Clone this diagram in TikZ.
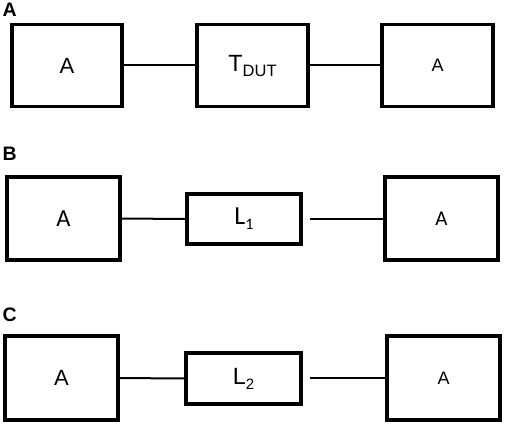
\documentclass[tikz,border=0pt]{standalone}
\usepackage{fontspec}
\setmainfont{Liberation Sans}
\newfontfamily\carl{Carlito}
\newcommand{\subtxt}[3]{\raisebox{-#1}{\fontsize{#2}{#2}\selectfont #3}}
\begin{document}
\begin{tikzpicture}[x=1pt,y=-1pt,
  box/.style={draw=black,line width=3.2pt,inner sep=0pt,anchor=center},
  bigbox/.style={box,minimum width=#1,minimum height=82},
  conn/.style={draw=black,line width=2pt},
  panel/.style={font=\fontsize{19.5}{19.5}\selectfont\bfseries,anchor=north west,inner sep=0pt},
  big/.style={font=\fontsize{22}{22}\selectfont},
  huge/.style={font=\fontsize{23.5}{23.5}\selectfont},
  mid/.style={font=\fontsize{18}{18}\selectfont},
  cbig/.style={font=\carl\fontsize{24.5}{24.5}\selectfont},
  chuge/.style={font=\carl\fontsize{26}{26}\selectfont},
  cmid/.style={font=\carl\fontsize{21}{21}\selectfont}]
\useasboundingbox (0,0) rectangle (505,425);
% Panel A
\node[panel] (la) at (2.5,3) {A};
\node[bigbox=110,big] (a1) at (67,65.5) {A};
\node[bigbox=111,huge] (a2) at (252.5,65.5) {T\subtxt{5pt}{16.5}{DUT}};
\node[bigbox=111,mid] (a3) at (437.5,65.5) {A};
\draw[conn] (a1) -- (a2);
\draw[conn] (a2) -- (a3);
% Panel B
\node[panel] (lb) at (2.5,147) {B};
\node[box,minimum width=113,minimum height=83,cbig] (b1) at (63.5,218.5) {A};
\node[box,minimum width=114,minimum height=50,chuge] (b2) at (244,219) {L\subtxt{5pt}{16}{1}};
\node[box,minimum width=113,minimum height=83,cmid] (b3) at (441.5,218.5) {A};
\coordinate (bs) at (310,219);
\draw[conn] (b1) -- (b2);
\draw[conn] (bs) -- (bs -| b3.west);
% Panel C
\node[panel] (lc) at (2.5,308) {C};
\node[box,minimum width=113,minimum height=84,big] (c1) at (61.5,378) {A};
\node[box,minimum width=115,minimum height=51,huge] (c2) at (243.5,378.5) {L\subtxt{5pt}{15}{2}};
\node[box,minimum width=113,minimum height=84,mid] (c3) at (443.5,378) {A};
\coordinate (cs) at (310,378);
\draw[conn] (c1) -- (c2);
\draw[conn] (cs) -- (cs -| c3.west);
\end{tikzpicture}
\end{document}
